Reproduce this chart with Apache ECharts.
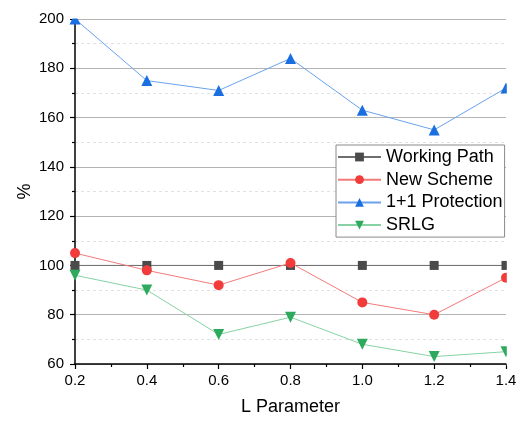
<!DOCTYPE html>
<html>
<head>
<meta charset="utf-8">
<script src="https://cdn.jsdelivr.net/npm/echarts@6/dist/echarts.min.js"></script>
<style>html,body{margin:0;padding:0;background:#fff}#c{width:522px;height:421px}</style>
</head>
<body>
<div id="c"></div>
<script>
var xValues = [0.2, 0.4, 0.6, 0.8, 1.0, 1.2, 1.4];
var workingPath = [100, 100, 100, 100, 100, 100, 100];
var newScheme = [105, 98, 92, 101, 85, 80, 95];
var protection11 = [200, 175, 171, 184, 163, 155, 172];
var srlg = [96, 90, 72, 79, 68, 63, 65];
var seriesNames = ['Working Path', 'New Scheme', '1+1 Protection', 'SRLG'];

function pairs(arr) { return xValues.map(function (x, i) { return [x, arr[i]]; }); }

var FONT = 'Liberation Sans, Arial, sans-serif';
var chart = echarts.init(document.getElementById('c'), null, {renderer: 'canvas'});

function mk(name, data, symbol, size, markColor, lineColor) {
  return {
    name: name, type: 'line', data: pairs(data),
    symbol: symbol, symbolSize: size,
    itemStyle: {color: markColor},
    lineStyle: {color: lineColor, width: 1},
    emphasis: {disabled: true},
    animation: false
  };
}

chart.setOption({
  animation: false,
  grid: {left: 75, right: 16, top: 19, bottom: 54, containLabel: false},
  legend: {
    orient: 'vertical', left: 336, top: 145,
    data: seriesNames,
    itemWidth: 43, itemHeight: 11, itemGap: 4.7, itemTextGap: 5,
    padding: [3, 2, 3, 1],
    borderColor: '#8a8a8a', borderWidth: 1, backgroundColor: '#fff',
    textStyle: {fontFamily: FONT, fontSize: 18, color: '#000'},
    selectedMode: false, z: 200
  },
  graphic: [
    {type: 'rect', z: 100, silent: true, shape: {x: 64, y: 0, width: 458, height: 18.5}, style: {fill: '#fff'}},
    {type: 'rect', z: 100, silent: true, shape: {x: 506.8, y: 0, width: 16, height: 366}, style: {fill: '#fff'}}
  ],
  xAxis: {
    type: 'value', min: 0.2, max: 1.4, interval: 0.2,
    name: 'L Parameter', nameLocation: 'middle', nameGap: 34, nameMoveOverlap: false,
    nameTextStyle: {fontFamily: FONT, fontSize: 18, color: '#000'},
    axisLine: {show: true, onZero: false, lineStyle: {color: '#000', width: 1.5}},
    axisTick: {show: true, inside: false, length: 5, lineStyle: {color: '#000', width: 1.2}},
    minorTick: {show: true, splitNumber: 2, length: 3, lineStyle: {color: '#000', width: 1.2}},
    axisLabel: {fontFamily: FONT, fontSize: 15, color: '#000', margin: 9,
      formatter: function (v) { return v.toFixed(1); }},
    splitLine: {show: false}
  },
  yAxis: {
    type: 'value', min: 60, max: 200, interval: 20,
    name: '%', nameLocation: 'middle', nameGap: 41, nameRotate: 90, nameMoveOverlap: false,
    nameTextStyle: {fontFamily: FONT, fontSize: 18, color: '#000'},
    axisLine: {show: true, onZero: false, lineStyle: {color: '#000', width: 1.5}},
    axisTick: {show: true, inside: false, length: 5, lineStyle: {color: '#000', width: 1.2}},
    minorTick: {show: true, splitNumber: 2, length: 3, lineStyle: {color: '#000', width: 1.2}},
    axisLabel: {fontFamily: FONT, fontSize: 15, color: '#000', margin: 11},
    splitLine: {show: true, lineStyle: {color: '#b4b4b4', width: 1}},
    minorSplitLine: {show: true, lineStyle: {color: '#e2e2e2', width: 1, type: [3, 3]}}
  },
  series: [
    mk(seriesNames[0], workingPath, 'rect', 9, '#4a4a4a', '#6e6e6e'),
    mk(seriesNames[1], newScheme, 'circle', 10, '#f23b3b', '#f47a7a'),
    mk(seriesNames[2], protection11, 'triangle', 11, '#1a6fe0', '#6aa2ee'),
    mk(seriesNames[3], srlg, 'path://M0,0 L10,0 L5,9 Z', 11, '#2eaa5e', '#86d2a4')
  ]
});
</script>
</body>
</html>
